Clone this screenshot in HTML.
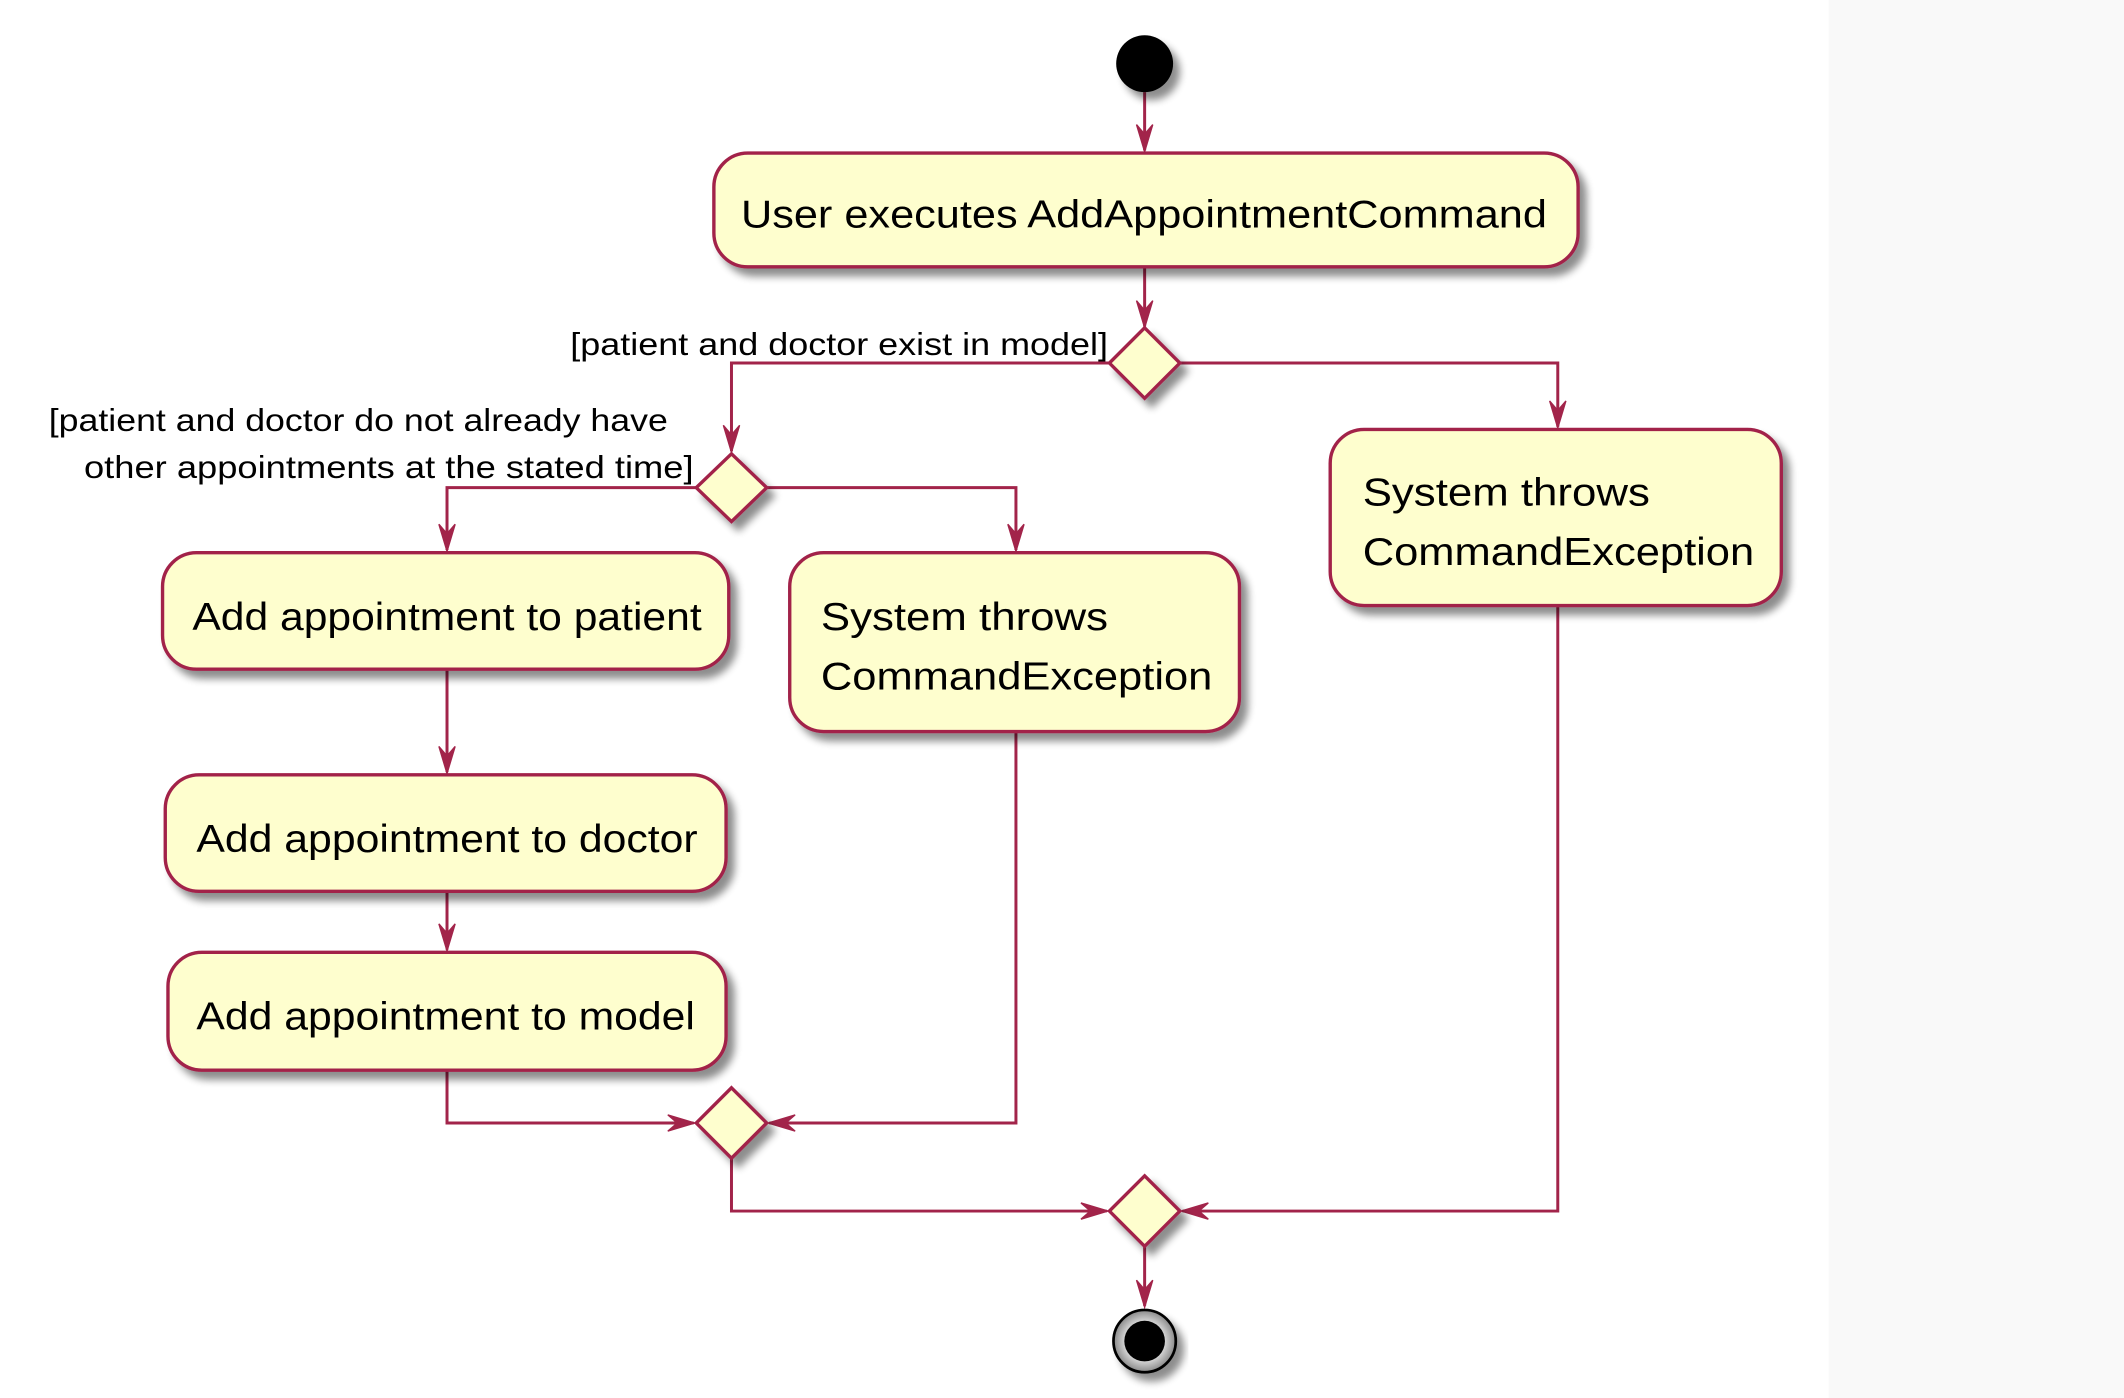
<!DOCTYPE html>
<html><head><style>html,body{margin:0;padding:0;background:#fff}svg{display:block}</style></head>
<body>
<svg width="2124" height="1398" viewBox="0 0 1568 1032" preserveAspectRatio="none" xmlns="http://www.w3.org/2000/svg">
<defs>
<filter id="sh" x="-20%" y="-20%" width="140%" height="150%"><feGaussianBlur in="SourceAlpha" stdDeviation="3"/><feOffset dx="5" dy="6"/><feComponentTransfer><feFuncA type="linear" slope="0.45"/></feComponentTransfer><feMerge><feMergeNode/><feMergeNode in="SourceGraphic"/></feMerge></filter>
<radialGradient id="eg" cx="50%" cy="50%" r="50%"><stop offset="0.6" stop-color="#ddd"/><stop offset="1" stop-color="#888"/></radialGradient>
</defs>
<rect x="0" y="0" width="1568" height="1032" fill="#ffffff"/>
<rect x="1350" y="0" width="218" height="1032" fill="#f9f9f9"/>
<g font-family="Liberation Sans, Arial, sans-serif" fill="none" stroke="#A2244A" stroke-width="2.2">
<path d="M845 68 V111"/>
<path d="M845 197 V241"/>
<path d="M819 268 H540 V333"/>
<path d="M871 268 H1150 V315"/>
<path d="M514 360 H330 V406"/>
<path d="M566 360 H750 V406"/>
<path d="M330 494 V570"/>
<path d="M330 658 V701"/>
<path d="M330 790 V829 H512"/>
<path d="M750 540 V829 H568"/>
<path d="M540 855 V894 H817"/>
<path d="M1150 447 V894 H873"/>
<path d="M845 920 V964"/>
</g>
<g fill="#A2244A" stroke="#A2244A" stroke-width="1">
<path d="M845 112 l-6 -20 l6 7 l6 -7z"/>
<path d="M845 242 l-6 -20 l6 7 l6 -7z"/>
<path d="M540 334 l-6 -20 l6 7 l6 -7z"/>
<path d="M1150 316 l-6 -20 l6 7 l6 -7z"/>
<path d="M330 407 l-6 -20 l6 7 l6 -7z"/>
<path d="M750 407 l-6 -20 l6 7 l6 -7z"/>
<path d="M330 571 l-6 -20 l6 7 l6 -7z"/>
<path d="M330 702 l-6 -20 l6 7 l6 -7z"/>
<path d="M845 965 l-6 -20 l6 7 l6 -7z"/>
<path d="M513 829 l-20 -6 l7 6 l-7 6z"/>
<path d="M567 829 l20 -6 l-7 6 l7 6z"/>
<path d="M818 894 l-20 -6 l7 6 l-7 6z"/>
<path d="M872 894 l20 -6 l-7 6 l7 6z"/>
</g>
<g fill="#FEFECE" stroke="#A2244A" stroke-width="2.5" filter="url(#sh)">
<rect x="527" y="113" width="638" height="84" rx="25"/>
<rect x="982" y="317" width="333" height="130" rx="25"/>
<rect x="120" y="408" width="418" height="86" rx="25"/>
<rect x="583" y="408" width="332" height="132" rx="25"/>
<rect x="122" y="572" width="414" height="86" rx="25"/>
<rect x="124" y="703" width="412" height="87" rx="25"/>
<path d="M845 242 L871 268 L845 294 L819 268Z"/>
<path d="M540 335 L566 360 L540 385 L514 360Z"/>
<path d="M540 803 L566 829 L540 855 L514 829Z"/>
<path d="M845 868 L871 894 L845 920 L819 894Z"/>
</g>
<g filter="url(#sh)">
<circle cx="845" cy="47" r="21" fill="#000"/>
<circle cx="845" cy="990" r="23" fill="url(#eg)" stroke="#000" stroke-width="2"/>
<circle cx="845" cy="990" r="15" fill="#000"/>
</g>
<g font-family="Liberation Sans, Arial, sans-serif" fill="#000">
<text x="547" y="168" font-size="29" textLength="595" lengthAdjust="spacingAndGlyphs">User executes AddAppointmentCommand</text>
<text x="1006" y="373" font-size="29" textLength="212" lengthAdjust="spacingAndGlyphs">System throws</text>
<text x="1006" y="417" font-size="29" textLength="289" lengthAdjust="spacingAndGlyphs">CommandException</text>
<text x="142" y="465" font-size="29" textLength="376" lengthAdjust="spacingAndGlyphs">Add appointment to patient</text>
<text x="606" y="465" font-size="29" textLength="212" lengthAdjust="spacingAndGlyphs">System throws</text>
<text x="606" y="509" font-size="29" textLength="289" lengthAdjust="spacingAndGlyphs">CommandException</text>
<text x="145" y="629" font-size="29" textLength="370" lengthAdjust="spacingAndGlyphs">Add appointment to doctor</text>
<text x="145" y="760" font-size="29" textLength="368" lengthAdjust="spacingAndGlyphs">Add appointment to model</text>
<text x="421" y="262" font-size="23" textLength="397" lengthAdjust="spacingAndGlyphs">[patient and doctor exist in model]</text>
<text x="36" y="318" font-size="23" textLength="457" lengthAdjust="spacingAndGlyphs">[patient and doctor do not already have</text>
<text x="62" y="353" font-size="23" textLength="450" lengthAdjust="spacingAndGlyphs">other appointments at the stated time]</text>
</g>
</svg>
</body></html>
